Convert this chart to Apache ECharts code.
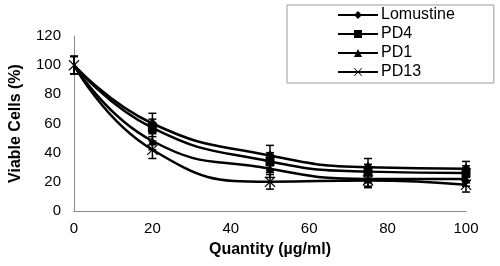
<!DOCTYPE html>
<html>
<head>
<meta charset="utf-8">
<script src="https://cdn.jsdelivr.net/npm/echarts@6/dist/echarts.min.js"></script>
<style>
  html, body { margin: 0; padding: 0; background: #fff; }
  #chart { width: 500px; height: 266px; }
</style>
</head>
<body>
<div id="chart"></div>
<script>
// doses (µg/ml)
var doses = [0, 20, 50, 75, 100];
// viable cells (%) per compound
var lomustine = [100, 60, 38, 30, 29];
var pd4 = [100, 57, 34, 27, 26];
var pd1 = [100, 48, 29, 22, 22];
var pd13 = [100, 42, 20, 21, 18];
// error bar half-widths
var lomustineErr = [6, 7, 7, 6, 5];
var pd4Err = [6, 6, 6, 5, 5];
var pd1Err = [6, 6, 6, 5, 5];
var pd13Err = [6, 6, 5, 5, 5];

var names = ['Lomustine', 'PD4', 'PD1', 'PD13'];
var values = [lomustine, pd4, pd1, pd13];
var errors = [lomustineErr, pd4Err, pd1Err, pd13Err];
var symbols = [
  'diamond',
  'rect',
  'triangle',
  'path://M1.5,0 L10,8.5 L18.5,0 L20,1.5 L11.5,10 L20,18.5 L18.5,20 L10,11.5 L1.5,20 L0,18.5 L8.5,10 L0,1.5 Z'
];
var sizes = [10, 9, 9, 11];

document.addEventListener('DOMContentLoaded', function () {
  var myChart = echarts.init(document.getElementById('chart'));

  var series = [];
  // error bars, under the lines
  values.forEach(function (vals, i) {
    series.push({
      type: 'custom',
      silent: true,
      z: 1,
      data: doses.map(function (d, k) {
        return [d, vals[k] - errors[i][k], vals[k] + errors[i][k]];
      }),
      encode: { x: 0, y: [1, 2] },
      renderItem: function (params, api) {
        var lo = api.coord([api.value(0), api.value(1)]);
        var hi = api.coord([api.value(0), api.value(2)]);
        var w = 4;
        var st = { stroke: '#000', lineWidth: 1.5 };
        return {
          type: 'group',
          children: [
            { type: 'line', shape: { x1: lo[0], y1: lo[1], x2: hi[0], y2: hi[1] }, style: st },
            { type: 'line', shape: { x1: lo[0] - w, y1: lo[1], x2: lo[0] + w, y2: lo[1] }, style: st },
            { type: 'line', shape: { x1: hi[0] - w, y1: hi[1], x2: hi[0] + w, y2: hi[1] }, style: st }
          ]
        };
      }
    });
  });
  values.forEach(function (vals, i) {
    series.push({
      name: names[i],
      type: 'line',
      smooth: 0.5,
      z: 3,
      symbol: symbols[i],
      symbolSize: sizes[i],
      showAllSymbol: true,
      // only the X marker shows at dose 0 in the original
      data: doses.map(function (d, k) {
        var p = { value: [d, vals[k]] };
        if (k === 0 && i < 3) p.symbol = 'none';
        return p;
      }),
      lineStyle: { color: '#000', width: 2.5 },
      itemStyle: { color: '#000' }
    });
  });

  var option = {
    animation: false,
    textStyle: { fontFamily: 'Liberation Sans, Arial, sans-serif' },
    grid: { left: 71, right: 34, top: 36, bottom: 55 },
    legend: {
      orient: 'vertical',
      left: 287,
      top: 5,
      padding: [2, 39, 3, 50],
      itemGap: 3,
      itemWidth: 40,
      itemHeight: 10,
      borderColor: '#999',
      borderWidth: 1,
      data: names,
      textStyle: { color: '#000', fontSize: 16, padding: [0, 0, 0, -2] }
    },
    xAxis: {
      type: 'value',
      min: 0,
      max: 100,
      interval: 20,
      name: 'Quantity (µg/ml)',
      nameLocation: 'middle',
      nameGap: 31,
      nameTextStyle: { color: '#000', fontWeight: 'bold', fontSize: 16 },
      axisLine: { show: true, lineStyle: { color: '#888', width: 1 } },
      axisTick: { show: false },
      splitLine: { show: false },
      axisLabel: { color: '#000', fontSize: 15, margin: 10 }
    },
    yAxis: {
      type: 'value',
      min: 0,
      max: 120,
      interval: 20,
      name: 'Viable Cells (%)',
      nameLocation: 'middle',
      nameGap: 50,
      nameTextStyle: { color: '#000', fontWeight: 'bold', fontSize: 16 },
      axisLine: { show: true, lineStyle: { color: '#888', width: 1 } },
      axisTick: { show: false },
      splitLine: { show: false },
      axisLabel: { color: '#000', fontSize: 15, margin: 13 }
    },
    series: series
  };

  myChart.setOption(option);
  window.addEventListener('resize', function () { myChart.resize(); });
});
</script>
</body>
</html>
